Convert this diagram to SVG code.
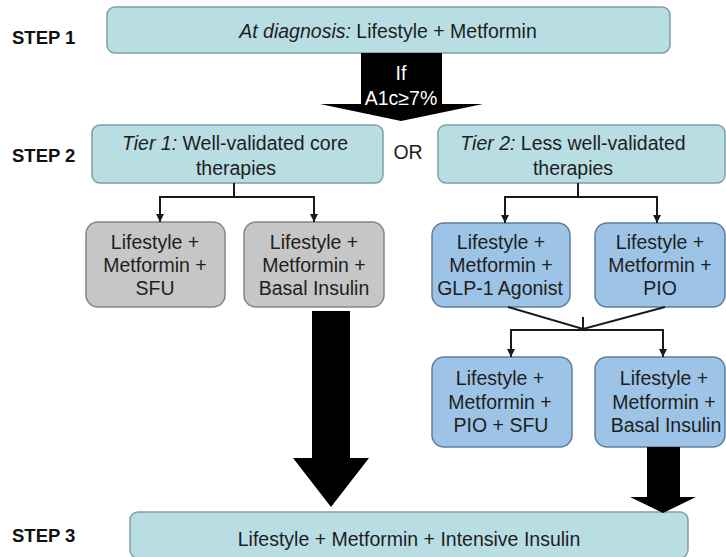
<svg xmlns="http://www.w3.org/2000/svg" width="726" height="557" viewBox="0 0 726 557">
<defs>
<style>
.t{font-family:"Liberation Sans",Arial,sans-serif;font-size:19.5px;fill:#1e1e1e;text-anchor:middle}
.lbl{font-family:"Liberation Sans",Arial,sans-serif;font-size:18.5px;font-weight:bold;fill:#111}
.step{fill:#b8dde3;stroke:#7f9ea4;stroke-width:1.5}
.gray{fill:#c6c6c6;stroke:#858585;stroke-width:1.5}
.blue{fill:#9dc3e6;stroke:#5f7d9c;stroke-width:1.5}
.ln{fill:none;stroke:#1a1a1a;stroke-width:2}
.big{fill:#000}
</style>
<marker id="ah" viewBox="0 0 10 10" refX="10" refY="5" markerWidth="4" markerHeight="4" orient="auto" markerUnits="strokeWidth">
<path d="M0,0 L10,5 L0,10 z" fill="#1a1a1a"/>
</marker>
</defs>
<rect width="726" height="557" fill="#fff"/>

<g id="labels">
<text class="lbl" x="12" y="44">STEP 1</text>
<text class="lbl" x="12" y="162">STEP 2</text>
<text class="lbl" x="12" y="542">STEP 3</text>
</g>

<g id="step1">
<rect class="step" x="107" y="7" width="563" height="46" rx="8"/>
<text class="t" x="388" y="38"><tspan font-style="italic">At diagnosis:</tspan> Lifestyle + Metformin</text>
</g>

<g id="arrow-a1c">
<path class="big" d="M361,53 H442 V104 H483 L401,121 L320,104 H361 Z"/>
<text class="t" x="401" y="80" style="fill:#fff">If</text>
<text class="t" x="401" y="105" style="fill:#fff">A1c≥7%</text>
</g>

<g id="tier1">
<rect class="step" x="92" y="125" width="291" height="58" rx="8"/>
<text class="t" x="235" y="150"><tspan font-style="italic">Tier 1:</tspan> Well-validated core</text>
<text class="t" x="236" y="175">therapies</text>
</g>

<g id="or">
<text class="t" x="408" y="159">OR</text>
</g>

<g id="tier2">
<rect class="step" x="438" y="125" width="287" height="58" rx="8"/>
<text class="t" x="573" y="150"><tspan font-style="italic">Tier 2:</tspan> Less well-validated</text>
<text class="t" x="573" y="175">therapies</text>
</g>

<g id="sfu">
<rect class="gray" x="86" y="222" width="139" height="85" rx="12"/>
<text class="t" x="155" y="249">Lifestyle +</text>
<text class="t" x="155" y="272">Metformin +</text>
<text class="t" x="155" y="295">SFU</text>
</g>

<g id="basal1">
<rect class="gray" x="244" y="222" width="140" height="85" rx="12"/>
<text class="t" x="314" y="249">Lifestyle +</text>
<text class="t" x="314" y="272">Metformin +</text>
<text class="t" x="314" y="295">Basal Insulin</text>
</g>

<g id="glp1">
<rect class="blue" x="432" y="223" width="138" height="84" rx="12"/>
<text class="t" x="501" y="249">Lifestyle +</text>
<text class="t" x="501" y="272">Metformin +</text>
<text class="t" x="500" y="295">GLP-1 Agonist</text>
</g>

<g id="pio">
<rect class="blue" x="595" y="223" width="130" height="84" rx="12"/>
<text class="t" x="660" y="249">Lifestyle +</text>
<text class="t" x="660" y="272">Metformin +</text>
<text class="t" x="660" y="295">PIO</text>
</g>

<g id="piosfu">
<rect class="blue" x="432" y="357" width="140" height="90" rx="12"/>
<text class="t" x="500" y="385">Lifestyle +</text>
<text class="t" x="500" y="409">Metformin +</text>
<text class="t" x="501" y="432">PIO + SFU</text>
</g>

<g id="basal2">
<rect class="blue" x="595" y="357" width="130" height="90" rx="12"/>
<text class="t" x="664" y="385">Lifestyle +</text>
<text class="t" x="664" y="409">Metformin +</text>
<text class="t" x="666" y="432">Basal Insulin</text>
</g>

<g id="step3">
<rect class="step" x="130" y="512" width="558" height="46" rx="8"/>
<text class="t" x="409" y="546">Lifestyle + Metformin + Intensive Insulin</text>
</g>

<g id="connectors">
<path class="ln" d="M234,183 V197"/>
<path class="ln" d="M160,197 H314"/>
<path class="ln" d="M160,196 V222" marker-end="url(#ah)"/>
<path class="ln" d="M314,196 V222" marker-end="url(#ah)"/>
<path class="ln" d="M578,183 V197"/>
<path class="ln" d="M505,197 H657"/>
<path class="ln" d="M505,196 V223" marker-end="url(#ah)"/>
<path class="ln" d="M657,196 V223" marker-end="url(#ah)"/>
<path class="ln" d="M508,307 L583,329 L665,307"/>
<path class="ln" d="M583,317 V330"/>
<path class="ln" d="M511,330 H663"/>
<path class="ln" d="M511,329 V357" marker-end="url(#ah)"/>
<path class="ln" d="M663,329 V357" marker-end="url(#ah)"/>
<path class="big" d="M312,311 H350 V458 H369 L331,507 L293,458 H312 Z"/>
<path class="big" d="M647,447 H680 V497 H696 L663,513 L630,497 H647 Z"/>
</g>
</svg>
